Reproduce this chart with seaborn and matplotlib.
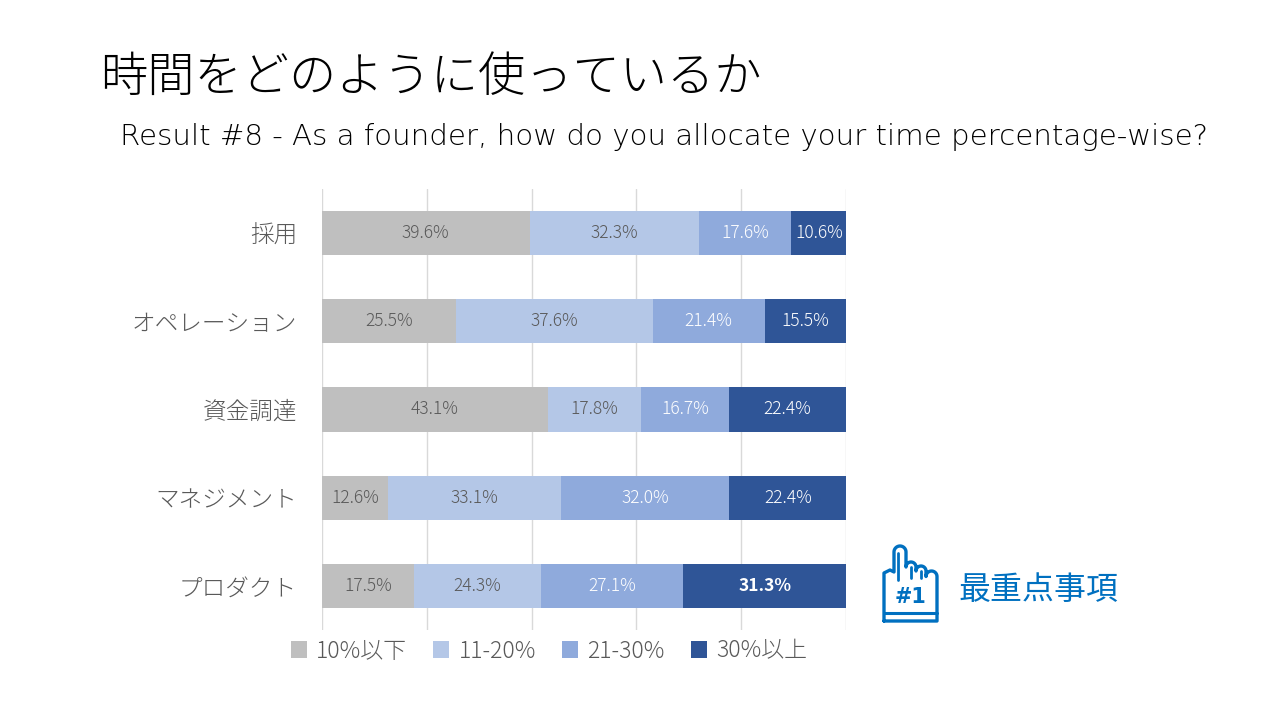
import matplotlib
matplotlib.use("Agg")
import matplotlib.pyplot as plt
import seaborn as sns
import pandas as pd
import numpy as np

# ---- data ----
categories = ["採用", "オペレーション", "資金調達", "マネジメント", "プロダクト"]
series_names = ["10%以下", "11-20%", "21-30%", "30%以上"]
v_le10 = [39.6, 25.5, 43.1, 12.6, 17.5]
v_11_20 = [32.3, 37.6, 17.8, 33.1, 24.3]
v_21_30 = [17.6, 21.4, 16.7, 32.0, 27.1]
v_ge30 = [10.6, 15.5, 22.4, 22.4, 31.3]
colors = ["#BFBFBF", "#B4C7E7", "#8FAADC", "#2F5597"]
label_colors = ["#595959", "#595959", "#FFFFFF", "#FFFFFF"]

title = "時間をどのように使っているか"
subtitle = "Result #8 - As a founder, how do you allocate your time percentage-wise?"
badge_text = "最重点事項"

sns.set_theme(style="white")
plt.rcParams['font.family'] = ['Noto Sans CJK JP', 'DejaVu Sans']

fig = plt.figure(figsize=(12.8, 7.2), dpi=100)
fig.patch.set_facecolor("white")
ax = fig.add_axes([322/1280, 1-630/720, (846-322)/1280, (630-189)/720])

vals = np.array([v_le10, v_11_20, v_21_30, v_ge30])
cum = np.cumsum(vals, axis=0)
df = pd.DataFrame({"category": categories})
for i in range(4):
    df[f"cum{i}"] = cum[i]

# draw from the largest cumulative to the smallest so that stacks appear
for i in reversed(range(4)):
    sns.barplot(data=df, x=f"cum{i}", y="category", orient="h", color=colors[i],
                width=0.5, ax=ax, saturation=1, edgecolor="none", linewidth=0, zorder=3)

ax.set_xlim(0, 100)
ax.set_ylim(4.5, -0.5)
ax.set_xticks([0, 20, 40, 60, 80, 100])
ax.set_xticklabels([])
ax.xaxis.grid(True, color="#D9D9D9", linewidth=1)
ax.yaxis.grid(False)
ax.set_axisbelow(True)
for s in ax.spines.values():
    s.set_visible(False)
ax.set_xlabel("")
ax.set_ylabel("")
ax.tick_params(axis="y", length=0, pad=18, labelsize=17, labelcolor="#595959")
for lab in ax.get_yticklabels():
    lab.set_fontweight("light")
ax.tick_params(axis="x", length=0)

# data labels
starts = np.vstack([np.zeros(len(categories)), cum[:-1]])
for i in range(4):
    for j in range(len(categories)):
        cx = starts[i, j] + vals[i, j] / 2
        bold = (i == 3 and j == len(categories) - 1)
        ax.text(cx, j, f"{vals[i, j]:.1f}%", ha="center", va="center",
                color=label_colors[i], fontsize=12.5,
                fontweight="bold" if bold else "light", zorder=5)

# legend
from matplotlib.patches import Patch
handles = [Patch(facecolor=c, edgecolor="none") for c in colors]
leg = fig.legend(handles, series_names, loc="center", ncol=4,
                 bbox_to_anchor=(549/1280, 1-651/720), frameon=False,
                 prop={"size": 16.5, "weight": "light"},
                 handlelength=0.7, handleheight=0.7,
                 handletextpad=0.4, columnspacing=1.15)
for t in leg.get_texts():
    t.set_color("#595959")

# titles
fig.text(100/1280, 1-77/720, title, fontsize=34, fontweight="light",
         color="#000000", ha="left", va="center")
fig.text(120/1280, 1-137/720, subtitle, fontsize=21.1, fontweight="light",
         color="#000000", ha="left", va="center", family=["DejaVu Sans"])

# badge icon (decoration)
blue = "#0070C0"
iax = fig.add_axes([870/1280, 1-630/720, 80/1280, 95/720])
iax.set_xlim(870, 950)
iax.set_ylim(630, 535)
iax.axis("off")
ox = [884, 884, 890, 894, 894]
oy = [621, 573, 570, 572, 552]
t = np.linspace(np.pi, 0, 20)
fx = 900 + 6 * np.cos(t)
fy = 552 - 6 * np.sin(t)
path_x = ox + list(fx)
path_y = oy + list(fy)
for (a, b, top) in [(906, 916, 562), (916, 926, 566), (926, 937, 571)]:
    r = (b - a) / 2
    tt = np.linspace(np.pi, 0, 16)
    path_x += list((a + b) / 2 + r * np.cos(tt))
    path_y += list(top + r - r * np.sin(tt))
path_x += [937, 937, 884]
path_y += [571 + 5.5, 621, 621]
iax.plot(path_x, path_y, color=blue, lw=2.4, solid_capstyle="round", solid_joinstyle="round")
iax.plot([884, 937], [613, 613], color=blue, lw=2.2)
iax.plot([898, 898], [553, 580], color=blue, lw=2.0, solid_capstyle="round")
iax.plot([911, 911], [567, 578], color=blue, lw=2.0, solid_capstyle="round")
iax.plot([921, 921], [571, 578], color=blue, lw=2.0, solid_capstyle="round")
iax.text(911, 597, "#1", color=blue, fontsize=15, fontweight="bold",
         ha="center", va="center", family=["DejaVu Sans"])

fig.text(958/1280, 1-590/720, badge_text, fontsize=23, color=blue,
         ha="left", va="center")

fig.savefig("out.png", dpi=100, facecolor="white")
